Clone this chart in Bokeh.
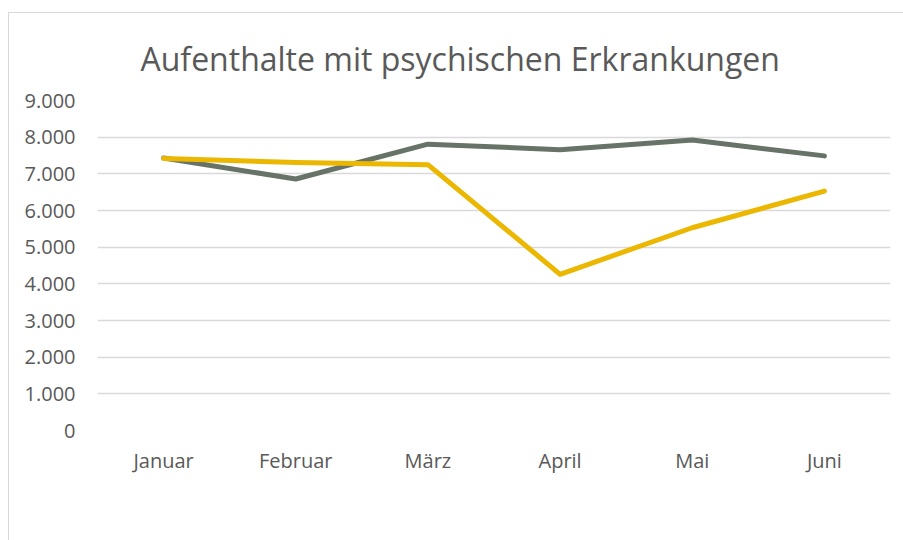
from bokeh.plotting import figure
from bokeh.models import FixedTicker, CustomJSTickFormatter, Legend, LegendItem
from bokeh.embed import file_html
from bokeh.resources import INLINE

months = ["Januar", "Februar", "März", "April", "Mai", "Juni"]
values_2019 = [7430, 6860, 7810, 7660, 7920, 7490]
values_2020 = [7420, 7310, 7250, 4260, 5530, 6530]
y_ticks = [0, 1000, 2000, 3000, 4000, 5000, 6000, 7000, 8000, 9000]
title_text = "Aufenthalte mit psychischen Erkrankungen"

FONT = "Open Sans"
TXT = "#595959"

p = figure(x_range=months, y_range=(0, 9000), width=894, height=527,
           frame_width=793, frame_height=330,
           output_backend="svg", toolbar_location=None,
           min_border_left=88, min_border_right=13, min_border_top=87, min_border_bottom=110)
p.styles = {"margin-left": "8px", "margin-top": "12px",
            "border-top": "1px solid #d9d9d9", "border-left": "1px solid #d9d9d9"}
p.outline_line_color = None
p.background_fill_color = "white"
p.border_fill_color = "white"

r1 = p.line(months, values_2019, line_color="#667366", line_width=5,
            line_cap="round", line_join="round")
r2 = p.line(months, values_2020, line_color="#EBB700", line_width=5,
            line_cap="round", line_join="round")

p.yaxis.ticker = FixedTicker(ticks=y_ticks)
p.yaxis.formatter = CustomJSTickFormatter(code="""
return tick.toFixed(0).replace(/\\B(?=(\\d{3})+(?!\\d))/g, ".");
""")
for ax in (p.xaxis[0], p.yaxis[0]):
    ax.axis_line_color = None
    ax.major_tick_line_color = None
    ax.minor_tick_line_color = None
    ax.major_tick_out = 0
    ax.major_tick_in = 0
    ax.major_label_text_font = FONT
    ax.major_label_text_font_size = "20px"
    ax.major_label_text_color = TXT
p.yaxis.major_label_standoff = 22
p.xaxis.major_label_standoff = 16

p.xgrid.grid_line_color = None
p.ygrid.grid_line_color = "#d9d9d9"
p.ygrid.grid_line_width = 1.5

p.title.text = title_text
p.title.align = "left"
p.title.offset = 43
p.title.standoff = 42
p.title.text_font = FONT
p.title.text_font_size = "32px"
p.title.text_font_style = "normal"
p.title.text_color = TXT

legend = Legend(items=[LegendItem(label="2019", renderers=[r1]),
                       LegendItem(label="2020", renderers=[r2])],
                orientation="horizontal", location="center",
                glyph_width=55, glyph_height=20, label_standoff=3, spacing=20,
                padding=0, margin=0, border_line_color=None, background_fill_alpha=0,
                label_text_font=FONT, label_text_font_size="20px", label_text_color=TXT)
p.add_layout(legend, "below")

open("out.html", "w").write(file_html(p, INLINE))
